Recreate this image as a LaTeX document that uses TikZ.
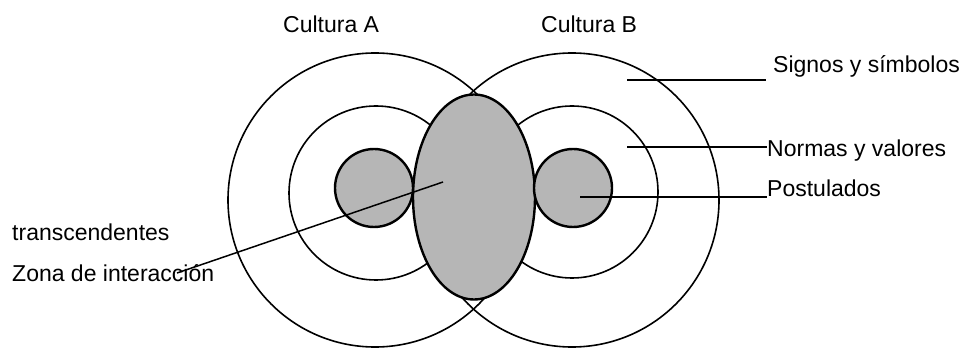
\documentclass[tikz,border=0pt]{standalone}
\usepackage{fontspec}
\setmainfont{Liberation Sans}
\usetikzlibrary{shapes.geometric}
\definecolor{zonegray}{RGB}{182,182,182}
\begin{document}
\begin{tikzpicture}[x=1pt,y=-1pt,
  ring/.style={circle,draw=black,line width=1.6pt,inner sep=0pt},
  core/.style={circle,draw=black,fill=zonegray,line width=2.4pt,inner sep=0pt,minimum size=78pt},
  zone/.style={ellipse,draw=black,fill=zonegray,line width=2.4pt,inner sep=0pt,minimum width=122pt,minimum height=205pt},
  lbl/.style={anchor=base west,inner sep=0pt,font=\fontsize{23}{27}\selectfont},
  conn/.style={draw=black,line width=1.5pt}]
\useasboundingbox (0,0) rectangle (965,352);
% outer circles
\node[ring,minimum size=294pt] (outA) at (375,200) {};
\node[ring,minimum size=294pt] (outB) at (572,200) {};
% inner circles
\node[ring,minimum size=174pt] (inA) at (376,193) {};
\node[ring,minimum size=172pt] (inB) at (572,192) {};
% interaction zone
\node[zone] (zona) at (474,197) {};
% cores
\node[core] (coreA) at (374,188) {};
\node[core] (coreB) at (573,188) {};
% labels
\node[lbl] (cA) at (283,33) {Cultura A};
\node[lbl] (cB) at (541,33) {Cultura B};
\node[lbl] (sig) at (773,73) {Signos y símbolos};
\node[lbl] (nor) at (767,157) {Normas y valores};
\node[lbl] (pos) at (767,197) {Postulados};
\node[lbl] (tra) at (12,241) {transcendentes};
\node[lbl] (zon) at (12,282) {Zona de interacción};
% connector ends
\coordinate (sigS) at (627,80);
\coordinate (sigE) at (766,80);
\coordinate (norS) at (627,147);
\coordinate (norE) at (767,147);
\coordinate (posS) at (580,197);
\coordinate (posE) at (767,197);
\coordinate (zonS) at (443,182);
\coordinate (zonE) at (177,273);
\draw[conn] (sigS) -- (sigE);
\draw[conn] (norS) -- (norE);
\draw[conn] (posS) -- (posE);
\draw[conn] (zonS) -- (zonE);
\end{tikzpicture}
\end{document}
